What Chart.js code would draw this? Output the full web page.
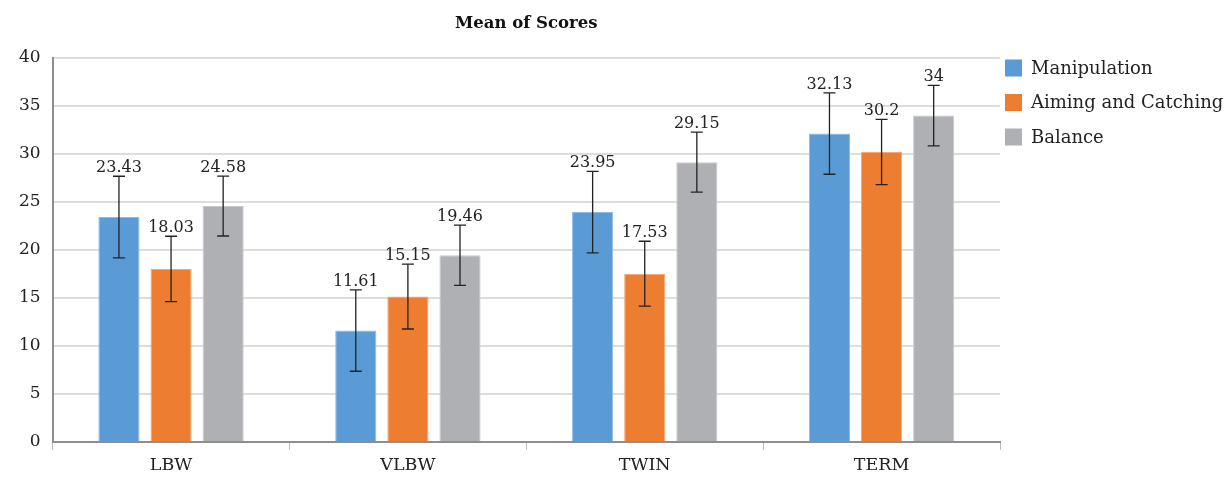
<!DOCTYPE html>
<html>
<head>
<meta charset="utf-8">
<script src="https://cdn.jsdelivr.net/npm/chart.js@4.4.1/dist/chart.umd.min.js"></script>
<style>
  body { margin: 0; background: #fff; }
  #wrap { width: 1228px; height: 478px; }
</style>
</head>
<body>
<div id="wrap"><canvas id="scoresChart" width="1228" height="478"></canvas></div>
<script>
const groups = ["LBW", "VLBW", "TWIN", "TERM"];
const seriesNames = ["Manipulation", "Aiming and Catching", "Balance"];
const manipulation = [23.43, 11.61, 23.95, 32.13];
const aimingCatching = [18.03, 15.15, 17.53, 30.2];
const balance = [24.58, 19.46, 29.15, 34];
// standard deviations (error bar half-lengths)
const manipulationSd = [4.25, 4.24, 4.24, 4.24];
const aimingCatchingSd = [3.4, 3.38, 3.38, 3.4];
const balanceSd = [3.12, 3.14, 3.12, 3.15];
const yTicks = [0, 5, 10, 15, 20, 25, 30, 35, 40];

const FONT = "'DejaVu Serif', serif";

// draws error bars and the value labels above them
const errorBarPlugin = {
    id: "errorBars",
    afterDatasetsDraw(chart) {
        const ctx = chart.ctx;
        const y = chart.scales.y;
        ctx.save();
        chart.data.datasets.forEach((ds, di) => {
            const meta = chart.getDatasetMeta(di);
            meta.data.forEach((bar, i) => {
                const v = ds.data[i];
                const sd = ds.sd[i];
                const top = y.getPixelForValue(v + sd);
                const bottom = y.getPixelForValue(v - sd);
                const x = bar.x;
                ctx.strokeStyle = "#222";
                ctx.lineWidth = 1.3;
                ctx.beginPath();
                ctx.moveTo(x, top); ctx.lineTo(x, bottom);
                ctx.moveTo(x - 6, top); ctx.lineTo(x + 6, top);
                ctx.moveTo(x - 6, bottom); ctx.lineTo(x + 6, bottom);
                ctx.stroke();

                ctx.fillStyle = "#222";
                ctx.font = "16px " + FONT;
                ctx.textAlign = "center";
                ctx.textBaseline = "alphabetic";
                ctx.fillText(String(v), x, top - 4);
            });
        });
        ctx.restore();
    }
};

// title centred over the plot area, legend to the right of it
const titleLegendPlugin = {
    id: "titleLegend",
    afterDraw(chart) {
        const ctx = chart.ctx;
        const a = chart.chartArea;
        ctx.save();
        ctx.fillStyle = "#111";
        ctx.font = "bold 16.5px " + FONT;
        ctx.textAlign = "center";
        ctx.textBaseline = "middle";
        ctx.fillText("Mean of Scores", (a.left + a.right) / 2, 24);

        ctx.font = "18px " + FONT;
        ctx.textAlign = "left";
        chart.data.datasets.forEach((ds, i) => {
            const cy = 68 + i * 34.5;
            ctx.fillStyle = ds.backgroundColor;
            ctx.fillRect(a.right + 5, cy - 8.5, 17, 17);
            ctx.fillStyle = "#222";
            ctx.fillText(ds.label, a.right + 31, cy + 1);
        });
        ctx.restore();
    }
};

const ctx = document.getElementById("scoresChart").getContext("2d");
new Chart(ctx, {
    type: "bar",
    data: {
        labels: groups,
        datasets: [
            { label: seriesNames[0], data: manipulation, sd: manipulationSd,
              backgroundColor: "#5B9BD5", borderColor: "#8DBBE6", borderWidth: 1 },
            { label: seriesNames[1], data: aimingCatching, sd: aimingCatchingSd,
              backgroundColor: "#ED7D31", borderColor: "#F5A877", borderWidth: 1 },
            { label: seriesNames[2], data: balance, sd: balanceSd,
              backgroundColor: "#AFB0B3", borderColor: "#C8C9CB", borderWidth: 1 }
        ]
    },
    options: {
        responsive: false,
        animation: false,
        categoryPercentage: 0.66,
        barPercentage: 0.79,
        layout: { padding: { top: 58, left: 7, right: 228, bottom: 0 } },
        plugins: {
            title: { display: false },
            tooltip: { enabled: false },
            legend: { display: false }
        },
        scales: {
            x: {
                grid: { display: true, drawOnChartArea: false, drawTicks: true, tickLength: 8, color: "#BBBBBB", offset: true },
                border: { color: "#8E8E8E", width: 2 },
                ticks: { color: "#222", font: { family: FONT, size: 17.5 }, padding: 5 },
                afterFit(scale) { scale.height = 36; }
            },
            y: {
                min: 0,
                max: 40,
                afterBuildTicks(scale) {
                    scale.ticks = yTicks.map(v => ({ value: v }));
                },
                grid: { color: "#DDDDDD", lineWidth: 2, drawTicks: false },
                border: { color: "#8E8E8E", width: 2 },
                ticks: { color: "#222", font: { family: FONT, size: 17 }, padding: 12 }
            }
        }
    },
    plugins: [errorBarPlugin, titleLegendPlugin]
});
</script>
</body>
</html>
